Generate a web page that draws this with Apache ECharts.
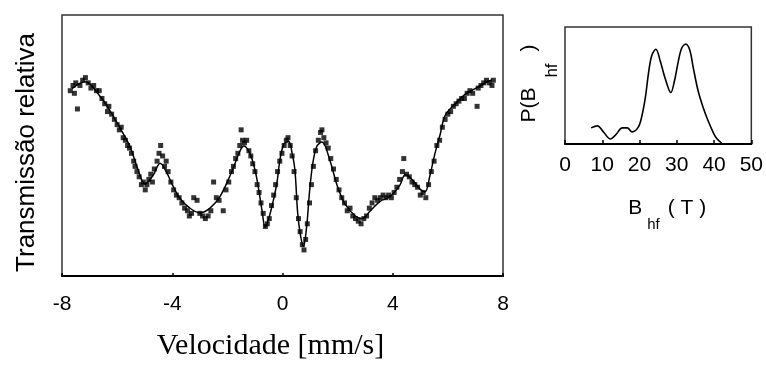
<!DOCTYPE html>
<html lang="pt">
<head>
    <meta charset="UTF-8">
    <title>Espectro Mössbauer</title>
    <script src="https://cdn.jsdelivr.net/npm/echarts@6/dist/echarts.min.js"></script>
    <style>
        html, body { margin: 0; padding: 0; background: #fff; }
        #chart { width: 766px; height: 366px; }
    </style>
</head>
<body>
<div id="chart"></div>
<script>
    // main spectrum: velocity (mm/s) vs relative transmission (arbitrary units)
    const xTicks = [-8, -4, 0, 4, 8];
    const fitV = [-7.64, -7.17, -6.62, -6.26, -5.9, -5.53, -5.24, -4.99, -4.7, -4.44, -4.2, -4.0, -3.72, -3.36, -3.0,
        -2.63, -2.27, -1.9, -1.72, -1.54, -1.4, -1.18, -1.0, -0.89, -0.74, -0.63, -0.5, -0.34, -0.2, -0.09, 0.05, 0.22,
        0.35, 0.45, 0.55, 0.65, 0.76, 0.88, 0.98, 1.1, 1.25, 1.43, 1.72, 1.98, 2.27, 2.63, 2.88, 3.18, 3.54, 3.9, 4.26,
        4.45, 4.7, 4.99, 5.17, 5.35, 5.53, 5.72, 5.9, 6.26, 6.62, 6.99, 7.42, 7.6];
    const fitT = [71.8, 74.4, 68.9, 63.4, 56.8, 49.5, 40.7, 35.2, 38.5, 43.2, 39.6, 35.0, 29.7, 26.0, 24.2,
        26.0, 30.4, 38.5, 43.2, 48.0, 49.8, 46.9, 40.7, 34.8, 24.9, 18.7, 22.0, 28.6, 35.9, 44.7, 50.5, 51.6,
        47.0, 40.7, 24.2, 15.8, 11.4, 19.4, 32.2, 43.2, 49.8, 51.3, 44.3, 34.8, 27.5, 23.1, 22.0, 24.9, 28.6, 30.4, 34.8,
        38.8, 37.0, 33.3, 32.2, 38.5, 46.9, 54.2, 61.5, 65.9, 69.6, 71.8, 74.4, 75.1];

    const obsV = [-7.7, -7.6, -7.55, -7.5, -7.44, -7.35, -7.25, -7.15, -7.05, -6.95, -6.85, -6.75, -6.65, -6.55, -6.45,
        -6.35, -6.3, -6.2, -6.1, -6.0, -5.92, -5.85, -5.78, -5.7, -5.62, -5.55, -5.48, -5.4, -5.35, -5.28, -5.2, -5.12,
        -5.05, -4.98, -4.92, -4.85, -4.78, -4.72, -4.65, -4.55, -4.48, -4.42, -4.35, -4.28, -4.22, -4.15, -4.05, -3.95,
        -3.85, -3.75, -3.65, -3.55, -3.45, -3.38, -3.3, -3.22, -3.1, -3.0, -2.9, -2.8, -2.7, -2.6, -2.5, -2.4, -2.3,
        -2.15, -2.05, -1.95, -1.85, -1.78, -1.7, -1.62, -1.55, -1.5, -1.45, -1.38, -1.3, -1.22, -1.15, -1.08, -1.0,
        -0.92, -0.85, -0.78, -0.7, -0.62, -0.55, -0.48, -0.4, -0.32, -0.25, -0.18, -0.1, -0.02, 0.06, 0.14, 0.2, 0.28,
        0.35, 0.42, 0.5, 0.58, 0.64, 0.72, 0.78, 0.84, 0.9, 0.98, 1.05, 1.12, 1.2, 1.3, 1.38, 1.43, 1.5, 1.58, 1.66,
        1.75, 1.85, 1.95, 2.05, 2.15, 2.25, 2.35, 2.45, 2.55, 2.65, 2.75, 2.85, 2.95, 3.05, 3.15, 3.25, 3.35, 3.45,
        3.55, 3.65, 3.75, 3.85, 3.95, 4.05, 4.15, 4.25, 4.35, 4.4, 4.5, 4.6, 4.7, 4.8, 4.9, 5.0, 5.1, 5.2, 5.3, 5.4,
        5.5, 5.6, 5.7, 5.8, 5.9, 6.0, 6.1, 6.2, 6.3, 6.4, 6.5, 6.6, 6.7, 6.8, 6.9, 7.06, 7.1, 7.2, 7.3, 7.4, 7.5,
        7.6, 7.65];
    const obsT = [71, 73, 70, 74, 64, 73, 75, 76, 74, 72, 73, 71, 71, 68, 66,
        63, 65, 62, 60, 58, 56, 57, 53, 52, 50, 49, 47, 44, 42, 40, 38, 35,
        36, 33, 35, 37, 39, 36, 41, 44, 47, 50, 46, 42, 44, 40, 36, 33,
        31, 30, 28, 26, 25, 23, 24, 30, 29, 24, 23, 22, 23, 25, 36, 30, 29,
        25, 33, 36, 40, 42, 45, 47, 50, 56, 52, 51, 52, 48, 46, 43, 40,
        35, 32, 28, 24, 19, 20, 22, 27, 31, 35, 40, 44, 47, 50, 52, 53, 50,
        46, 40, 30, 22, 17, 12, 10, 14, 20, 28, 35, 42, 48, 52, 55, 56, 53, 51, 49,
        45, 41, 37, 33, 30, 28, 25, 26, 23, 22, 21, 20, 22, 23, 26, 28, 30, 29,
        30, 31, 30, 31, 30, 32, 34, 37, 40, 45, 39, 38, 36, 35, 34, 31, 32, 30, 35, 40,
        44, 50, 52, 57, 60, 62, 63, 65, 66, 67, 68, 68, 70, 71, 70, 65, 72, 73, 74, 75, 74,
        73, 75];

    // hyperfine field distribution
    const bTicks = [0, 10, 20, 30, 40, 50];
    const bhf = [7.0, 8.7, 10.3, 12.2, 13.6, 15.4, 16.7, 18.0, 19.7, 20.7, 21.6, 22.4, 23.3, 24.4, 25.5, 26.8, 28.4,
        29.4, 30.3, 31.3, 32.4, 33.5, 34.4, 35.7, 37.0, 38.3, 39.7, 40.6, 42.0];
    const pbhf = [0.16, 0.18, 0.12, 0.05, 0.09, 0.16, 0.16, 0.12, 0.17, 0.29, 0.47, 0.70, 0.88, 0.94, 0.83, 0.66, 0.51,
        0.63, 0.80, 0.95, 0.99, 0.93, 0.76, 0.53, 0.37, 0.24, 0.12, 0.06, 0.01];

    const sans = 'Liberation Sans';
    const serif = 'Liberation Serif';

    const chart = echarts.init(document.getElementById('chart'), null, {renderer: 'canvas'});

    chart.setOption({
        animation: false,
        backgroundColor: '#fff',
        grid: [
            {left: 62, top: 15, width: 441, height: 273, show: true, borderColor: '#333', borderWidth: 1.5},
            {left: 565, top: 27, width: 187, height: 117, show: true, borderColor: '#333', borderWidth: 1.5}
        ],
        xAxis: [
            {
                gridIndex: 0, type: 'value', min: xTicks[0], max: xTicks[xTicks.length - 1], interval: 4,
                axisLine: {show: true, lineStyle: {color: '#000', width: 2}},
                axisTick: {show: true, inside: true, length: 3, lineStyle: {color: '#000', width: 1.5}},
                splitLine: {show: false},
                axisLabel: {color: '#000', fontFamily: sans, fontSize: 21, margin: 18},
                name: 'Velocidade [mm/s]', nameLocation: 'middle', nameGap: 55,
                nameTextStyle: {color: '#000', fontFamily: serif, fontSize: 30, padding: [0, 24, 0, 0]}
            },
            {
                gridIndex: 1, type: 'value', min: bTicks[0], max: bTicks[bTicks.length - 1], interval: 10,
                axisLine: {show: true, lineStyle: {color: '#000', width: 2}},
                axisTick: {show: true, inside: true, length: 4, lineStyle: {color: '#000', width: 1.5}},
                splitLine: {show: false},
                axisLabel: {color: '#000', fontFamily: sans, fontSize: 21, margin: 11},
                name: '{a|B}{s|hf}{a|( T )}', nameLocation: 'middle', nameGap: 40,
                nameTextStyle: {
                    color: '#000', fontFamily: sans, padding: [0, 0, 0, 18],
                    rich: {
                        a: {fontFamily: sans, fontSize: 21, color: '#000'},
                        s: {fontFamily: sans, fontSize: 15, color: '#000', padding: [33, 8, 0, 5]}
                    }
                }
            }
        ],
        yAxis: [
            {
                gridIndex: 0, type: 'value', min: 0, max: 100,
                axisLine: {show: false}, axisTick: {show: false}, axisLabel: {show: false},
                splitLine: {show: false},
                name: 'Transmissão relativa', nameLocation: 'middle', nameGap: 22, nameRotate: 90,
                nameTextStyle: {color: '#000', fontFamily: sans, fontSize: 26, padding: [0, 14, 0, 0]}
            },
            {
                gridIndex: 1, type: 'value', min: 0, max: 1.16,
                axisLine: {show: false}, axisTick: {show: false}, axisLabel: {show: false},
                splitLine: {show: false},
                name: '{a|P(B}{s|hf}{a|)}', nameLocation: 'middle', nameGap: 4, nameRotate: 90,
                nameTextStyle: {
                    color: '#000', fontFamily: sans, padding: [0, 0, 0, 4],
                    rich: {
                        a: {fontFamily: sans, fontSize: 21, color: '#000'},
                        s: {fontFamily: sans, fontSize: 17, color: '#000', padding: [46, 12, 0, 10]}
                    }
                }
            }
        ],
        series: [
            {
                type: 'scatter', xAxisIndex: 0, yAxisIndex: 0,
                data: obsV.map((v, i) => [v, obsT[i]]),
                symbol: 'rect', symbolSize: 5,
                itemStyle: {color: '#000'}
            },
            {
                type: 'line', xAxisIndex: 0, yAxisIndex: 0,
                data: fitV.map((v, i) => [v, fitT[i]]),
                showSymbol: false, smooth: 0.35,
                lineStyle: {color: '#000', width: 1.5}
            },
            {
                type: 'line', xAxisIndex: 1, yAxisIndex: 1,
                data: bhf.map((b, i) => [b, pbhf[i]]),
                showSymbol: false, smooth: 0.35,
                lineStyle: {color: '#000', width: 1.6}
            }
        ]
    });
</script>
</body>
</html>
